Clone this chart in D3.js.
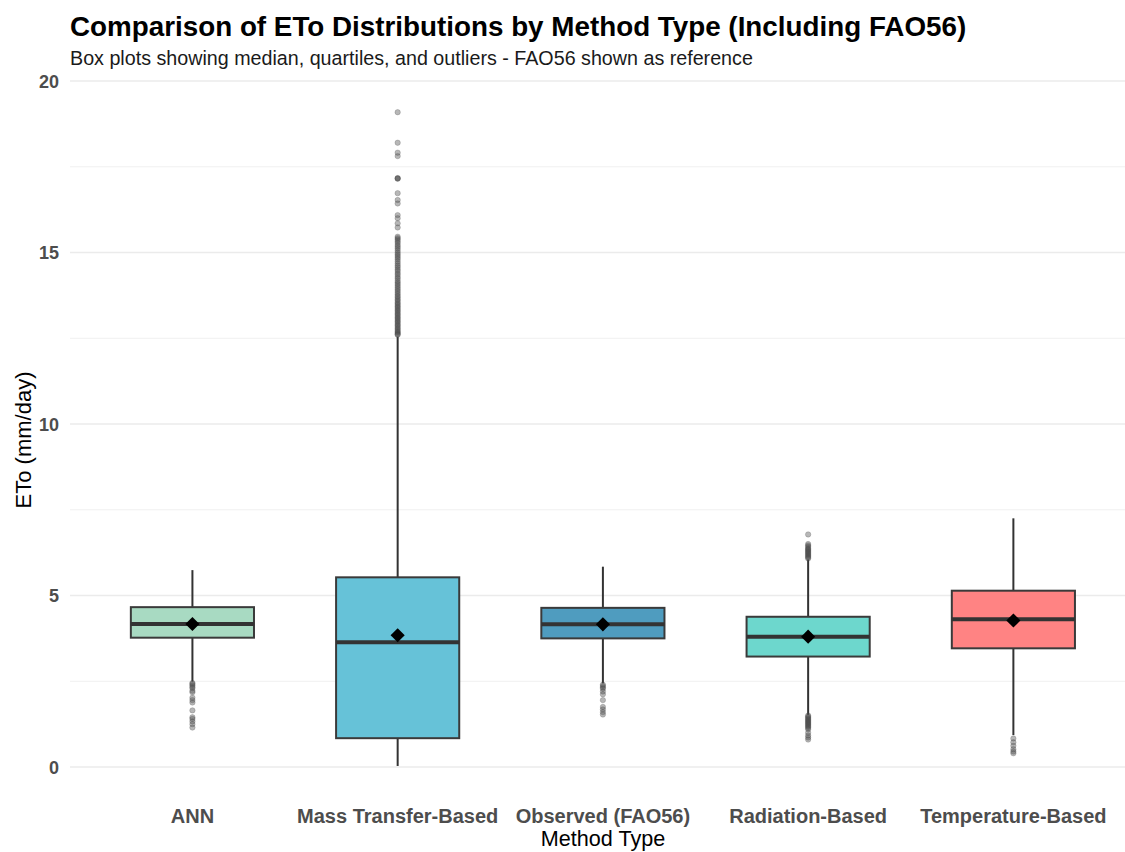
<!DOCTYPE html>
<html>
<head>
<meta charset="utf-8">
<script src="https://cdn.jsdelivr.net/npm/d3@7"></script>
<style>
  html, body { margin: 0; padding: 0; background: #fff; }
  svg { display: block; font-family: "Liberation Sans", Arial, sans-serif; }
</style>
</head>
<body>
<svg id="chart" width="1125" height="852"></svg>
<script>
// Method groups shown along the x axis
const categories = ["ANN", "Mass Transfer-Based", "Observed (FAO56)", "Radiation-Based", "Temperature-Based"];
const fillColors = ["#a8dac2", "#66c2d8", "#4f9cbf", "#6dd7cd", "#ff8383"];

// Box statistics per method (mm/day)
const q1Values      = [3.77, 0.84, 3.75, 3.22, 3.46];
const medianValues  = [4.17, 3.64, 4.16, 3.80, 4.31];
const q3Values      = [4.66, 5.53, 4.64, 4.38, 5.14];
const whiskerLow    = [2.49, 0.03, 2.44, 1.52, 0.93];
const whiskerHigh   = [5.74, 12.55, 5.84, 6.05, 7.25];
const meanValues    = [4.17, 3.84, 4.16, 3.80, 4.27];

// Outlying observations per method
const outliersANN = [2.45, 2.42, 2.38, 2.33, 2.30, 2.22, 2.18, 2.02, 1.95, 1.88, 1.65, 1.45, 1.40, 1.33, 1.25, 1.15];
const outliersMass = [19.09, 18.20, 17.91, 17.81, 17.17, 17.16, 17.15, 16.73, 16.53, 16.43, 16.09, 16.00, 15.85, 15.73,
  15.46, 15.42, 15.38, 15.33, 15.28, 15.22, 15.17, 15.12, 15.06, 15.00, 14.95, 14.90, 14.85, 14.80, 14.74, 14.68,
  14.62, 14.57, 14.51, 14.46, 14.40, 14.35, 14.29, 14.24, 14.18, 14.13, 14.08, 14.03, 13.98, 13.93, 13.88, 13.83,
  13.78, 13.73, 13.69, 13.64, 13.60, 13.55, 13.51, 13.47, 13.43, 13.39, 13.35, 13.31, 13.27, 13.23, 13.19, 13.15,
  13.11, 13.07, 13.03, 12.99, 12.95, 12.91, 12.87, 12.83, 12.79, 12.75, 12.71, 12.68, 12.65, 12.62, 12.60];
const outliersObserved = [2.40, 2.36, 2.32, 2.28, 2.20, 2.12, 1.95, 1.75, 1.68, 1.60, 1.53];
const outliersRadiation = [6.78, 6.50, 6.46, 6.42, 6.38, 6.35, 6.32, 6.29, 6.26, 6.23, 6.20, 6.17, 6.14, 6.11, 6.08,
  1.50, 1.47, 1.44, 1.41, 1.38, 1.35, 1.32, 1.29, 1.26, 1.23, 1.20, 1.17, 1.14, 1.10, 1.00, 0.92, 0.86, 0.80];
const outliersTemperature = [0.83, 0.72, 0.62, 0.52, 0.45, 0.40];
const outlierSets = [outliersANN, outliersMass, outliersObserved, outliersRadiation, outliersTemperature];

// Axis ticks
const majorTicks = [0, 5, 10, 15, 20];
const minorTicks = [2.5, 7.5, 12.5, 17.5];

const rows = categories.map((c, i) => ({
  name: c, fill: fillColors[i],
  q1: q1Values[i], med: medianValues[i], q3: q3Values[i],
  lo: whiskerLow[i], hi: whiskerHigh[i], mean: meanValues[i],
  out: outlierSets[i]
}));

const svg = d3.select("#chart");
const gridLeft = 70, gridRight = 1125;

const x = d3.scaleBand().domain(categories).range([89.8, 1116]).padding(0);
const y = d3.scaleLinear().domain([0, 20]).range([767, 81]);
const boxW = x.bandwidth() * 0.6;
const cx = d => x(d.name) + x.bandwidth() / 2;

// Grid
svg.append("g").selectAll("line.minor").data(minorTicks).join("line")
  .attr("x1", gridLeft).attr("x2", gridRight)
  .attr("y1", d => y(d)).attr("y2", d => y(d))
  .attr("stroke", "#f0f0f0").attr("stroke-width", 1);
svg.append("g").selectAll("line.major").data(majorTicks).join("line")
  .attr("x1", gridLeft).attr("x2", gridRight)
  .attr("y1", d => y(d)).attr("y2", d => y(d))
  .attr("stroke", "#ebebeb").attr("stroke-width", 1.6);

// Y axis labels
const yAxis = d3.axisLeft(y).tickValues(majorTicks).tickSize(0).tickPadding(0);
const yg = svg.append("g").attr("transform", "translate(59,0)").call(yAxis);
yg.select(".domain").remove();
yg.selectAll("text").attr("font-size", 18).attr("font-weight", "bold")
  .attr("fill", "#4d4d4d").attr("font-family", "Liberation Sans, Arial, sans-serif").attr("dy", "0.36em");

// X axis labels
const xAxis = d3.axisBottom(x).tickSize(0).tickPadding(0);
const xg = svg.append("g").attr("transform", "translate(0,809)").call(xAxis);
xg.select(".domain").remove();
xg.selectAll("text").attr("font-size", 20).attr("font-weight", "bold")
  .attr("fill", "#4d4d4d").attr("font-family", "Liberation Sans, Arial, sans-serif").attr("dy", "0.71em");

// Boxes
const g = svg.append("g");
const box = g.selectAll("g.box").data(rows).join("g");

// whiskers
box.append("line").attr("x1", cx).attr("x2", cx)
  .attr("y1", d => y(d.q3)).attr("y2", d => y(d.hi))
  .attr("stroke", "#333").attr("stroke-width", 2);
box.append("line").attr("x1", cx).attr("x2", cx)
  .attr("y1", d => y(d.q1)).attr("y2", d => y(d.lo))
  .attr("stroke", "#333").attr("stroke-width", 2);

// outliers
box.each(function(d) {
  d3.select(this).selectAll("circle").data(d.out).join("circle")
    .attr("cx", cx(d)).attr("cy", v => y(v)).attr("r", 2.7)
    .attr("fill", "#4a4a4a").attr("fill-opacity", 0.4)
    .attr("stroke", "#4a4a4a").attr("stroke-opacity", 0.4).attr("stroke-width", 0.6);
});

// box body
box.append("rect")
  .attr("x", d => cx(d) - boxW / 2).attr("width", boxW)
  .attr("y", d => y(d.q3)).attr("height", d => y(d.q1) - y(d.q3))
  .attr("fill", d => d.fill).attr("stroke", "#3a3a3a").attr("stroke-width", 2);

// median
box.append("line")
  .attr("x1", d => cx(d) - boxW / 2).attr("x2", d => cx(d) + boxW / 2)
  .attr("y1", d => y(d.med)).attr("y2", d => y(d.med))
  .attr("stroke", "#333").attr("stroke-width", 4);

// mean marker
box.append("path")
  .attr("d", d3.symbol(d3.symbolSquare, 100)())
  .attr("transform", d => `translate(${cx(d)},${y(d.mean)}) rotate(45)`)
  .attr("fill", "#000");

// Titles
svg.append("text").attr("x", 70).attr("y", 36)
  .attr("font-size", 27.8).attr("font-weight", "bold").attr("fill", "#000")
  .text("Comparison of ETo Distributions by Method Type (Including FAO56)");
svg.append("text").attr("x", 70).attr("y", 65)
  .attr("font-size", 19.7).attr("fill", "#1a1a1a")
  .text("Box plots showing median, quartiles, and outliers - FAO56 shown as reference");

svg.append("text").attr("x", 603).attr("y", 846).attr("text-anchor", "middle")
  .attr("font-size", 21.6).attr("fill", "#000").text("Method Type");
svg.append("text").attr("transform", "translate(31,440) rotate(-90)").attr("text-anchor", "middle")
  .attr("font-size", 22).attr("fill", "#000").text("ETo (mm/day)");
</script>
</body>
</html>
